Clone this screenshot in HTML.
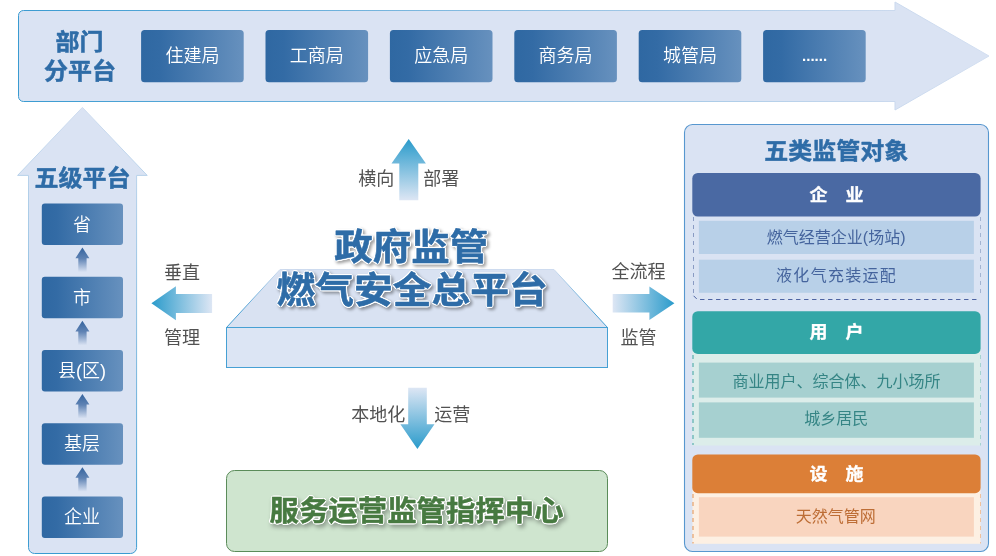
<!DOCTYPE html>
<html lang="zh-CN">
<head>
<meta charset="utf-8">
<title>政府监管燃气安全总平台</title>
<style>
html,body{margin:0;padding:0;background:#fff;}
body{width:996px;height:556px;overflow:hidden;}
svg{display:block;will-change:transform;}
text{font-family:"Liberation Sans","Noto Sans CJK SC",sans-serif;}
.w{fill:#fff;font-size:18px;font-weight:350;text-anchor:middle;}
.g{fill:#525252;font-size:18px;font-weight:400;text-anchor:middle;}
.it{font-size:16px;font-weight:400;text-anchor:middle;}
.h{fill:#2e6ca7;font-size:24px;font-weight:bold;text-anchor:middle;stroke:#2e6ca7;stroke-width:0.5px;stroke-linejoin:round;}
.hd{fill:#fff;font-size:18px;font-weight:bold;text-anchor:middle;stroke:#fff;stroke-width:0.35px;stroke-linejoin:round;}
.big{fill:#2e6ca7;font-size:38px;font-weight:bold;text-anchor:middle;stroke:#2e6ca7;stroke-width:0.6px;stroke-linejoin:round;}
.grn{fill:#477a41;font-size:29.3px;font-weight:bold;text-anchor:middle;stroke:#477a41;stroke-width:0.5px;stroke-linejoin:round;}
</style>
</head>
<body>
<svg width="996" height="556" viewBox="0 0 996 556">
<defs>
<linearGradient id="box" x1="0" y1="0" x2="1" y2="0">
<stop offset="0" stop-color="#2f68a2"/><stop offset="0.18" stop-color="#336ba5"/><stop offset="1" stop-color="#6791be"/>
</linearGradient>
<linearGradient id="bannerStroke" gradientUnits="userSpaceOnUse" x1="18" y1="0" x2="989" y2="0">
<stop offset="0" stop-color="#3a9bd1"/><stop offset="0.9" stop-color="#cad9ee"/><stop offset="1" stop-color="#d3dff1"/>
</linearGradient>
<linearGradient id="colStroke" gradientUnits="userSpaceOnUse" x1="0" y1="553" x2="0" y2="107">
<stop offset="0" stop-color="#3a9bd1"/><stop offset="1" stop-color="#cfdcef"/>
</linearGradient>
<linearGradient id="platStroke" gradientUnits="userSpaceOnUse" x1="0" y1="367" x2="0" y2="269">
<stop offset="0" stop-color="#3a9bd1"/><stop offset="0.55" stop-color="#4a9fd3"/><stop offset="1" stop-color="#cfdcef"/>
</linearGradient>
<linearGradient id="aUp" x1="0" y1="0" x2="0" y2="1">
<stop offset="0" stop-color="#2a9bcb"/><stop offset="1" stop-color="#dde6f4"/>
</linearGradient>
<linearGradient id="aDown" x1="0" y1="1" x2="0" y2="0">
<stop offset="0" stop-color="#2a9bcb"/><stop offset="1" stop-color="#dde6f4"/>
</linearGradient>
<linearGradient id="aLeft" x1="0" y1="0" x2="1" y2="0">
<stop offset="0" stop-color="#2a9bcb"/><stop offset="1" stop-color="#dde6f4"/>
</linearGradient>
<linearGradient id="aRight" x1="1" y1="0" x2="0" y2="0">
<stop offset="0" stop-color="#2a9bcb"/><stop offset="1" stop-color="#dde6f4"/>
</linearGradient>
<linearGradient id="sm" x1="0" y1="0" x2="0" y2="1">
<stop offset="0" stop-color="#34639d"/><stop offset="0.45" stop-color="#5f83b4"/><stop offset="1" stop-color="#dae3f3"/>
</linearGradient>
<filter id="sh" x="-5%" y="-10%" width="110%" height="125%" color-interpolation-filters="sRGB">
<feGaussianBlur in="SourceAlpha" stdDeviation="1" result="b"/>
<feComponentTransfer in="b" result="d"><feFuncA type="linear" slope="8" intercept="-0.6"/></feComponentTransfer>
<feFlood flood-color="#ffffff" result="wf"/>
<feComposite in="wf" in2="d" operator="in" result="white"/>
<feGaussianBlur in="d" stdDeviation="1.7" result="sb"/>
<feOffset in="sb" dx="2" dy="2.3" result="so"/>
<feFlood flood-color="#000000" flood-opacity="0.36" result="sf"/>
<feComposite in="sf" in2="so" operator="in" result="shadow"/>
<feMerge><feMergeNode in="shadow"/><feMergeNode in="white"/><feMergeNode in="SourceGraphic"/></feMerge>
</filter>
<filter id="sh2" x="-5%" y="-10%" width="110%" height="125%" color-interpolation-filters="sRGB">
<feGaussianBlur in="SourceAlpha" stdDeviation="1" result="b"/>
<feComponentTransfer in="b" result="d"><feFuncA type="linear" slope="8" intercept="-0.6"/></feComponentTransfer>
<feFlood flood-color="#ffffff" result="wf"/>
<feComposite in="wf" in2="d" operator="in" result="white"/>
<feGaussianBlur in="d" stdDeviation="2" result="sb"/>
<feOffset in="sb" dx="2.2" dy="2.6" result="so"/>
<feFlood flood-color="#000000" flood-opacity="0.3" result="sf"/>
<feComposite in="sf" in2="so" operator="in" result="shadow"/>
<feMerge><feMergeNode in="shadow"/><feMergeNode in="white"/><feMergeNode in="SourceGraphic"/></feMerge>
</filter>
</defs>

<path d="M23.5 10.5 H895 V2 L989 56 L895 110 V101.5 H23.5 A5 5 0 0 1 18.5 96.5 V15.5 A5 5 0 0 1 23.5 10.5 Z" fill="#dae3f3" stroke="url(#bannerStroke)" stroke-width="1"/>
<text class="h" transform="translate(79.6 49.7) scale(1 0.96)">部门</text>
<text class="h" transform="translate(79.9 79.0) scale(1 0.96)">分平台</text>
<rect x="141.1" y="30" width="102.6" height="52.2" rx="3.5" fill="url(#box)"/>
<text class="w" x="192.4" y="61.8">住建局</text>
<rect x="265.5" y="30" width="102.6" height="52.2" rx="3.5" fill="url(#box)"/>
<text class="w" x="316.8" y="61.8">工商局</text>
<rect x="389.9" y="30" width="102.6" height="52.2" rx="3.5" fill="url(#box)"/>
<text class="w" x="441.2" y="61.8">应急局</text>
<rect x="514.3" y="30" width="102.6" height="52.2" rx="3.5" fill="url(#box)"/>
<text class="w" x="565.6" y="61.8">商务局</text>
<rect x="638.7" y="30" width="102.6" height="52.2" rx="3.5" fill="url(#box)"/>
<text class="w" x="690.0" y="61.8">城管局</text>
<rect x="763.1" y="30" width="102.6" height="52.2" rx="3.5" fill="url(#box)"/>
<text class="w" style="font-size:15px;font-weight:700" x="814.6" y="60.6">......</text>
<path d="M82.4 107.4 L147.2 175.4 H136.6 V547.5 A6 6 0 0 1 130.6 553.5 H34.5 A6 6 0 0 1 28.5 547.5 V175.4 H17.6 Z" fill="#dae3f3" stroke="url(#colStroke)" stroke-width="1"/>
<text class="h" transform="translate(82.6 185.8) scale(1 0.96)">五级平台</text>
<rect x="41.8" y="203.6" width="81.2" height="41.5" rx="3" fill="url(#box)"/>
<text class="w" x="81.9" y="230.5">省</text>
<path d="M82.4 247.6 L89.4 258.2 H86.6 V272.1 H78.3 V258.2 H75.4 Z" fill="url(#sm)"/>
<rect x="41.8" y="276.8" width="81.2" height="41.5" rx="3" fill="url(#box)"/>
<text class="w" x="81.9" y="303.7">市</text>
<path d="M82.4 320.8 L89.4 331.4 H86.6 V345.3 H78.3 V331.4 H75.4 Z" fill="url(#sm)"/>
<rect x="41.8" y="350.0" width="81.2" height="41.5" rx="3" fill="url(#box)"/>
<text class="w" x="81.9" y="376.9">县(区)</text>
<path d="M82.4 394.0 L89.4 404.6 H86.6 V418.5 H78.3 V404.6 H75.4 Z" fill="url(#sm)"/>
<rect x="41.8" y="423.2" width="81.2" height="41.5" rx="3" fill="url(#box)"/>
<text class="w" x="81.9" y="450.1">基层</text>
<path d="M82.4 467.2 L89.4 477.8 H86.6 V491.7 H78.3 V477.8 H75.4 Z" fill="url(#sm)"/>
<rect x="41.8" y="496.4" width="81.2" height="41.5" rx="3" fill="url(#box)"/>
<text class="w" x="81.9" y="523.3">企业</text>
<path d="M408.7 139.1 L425.9 163.4 H418.3 V200.2 H399.3 V163.4 H391.5 Z" fill="url(#aUp)"/>
<text class="g" x="376.2" y="185.4">横向</text>
<text class="g" x="441.2" y="185.4">部署</text>
<path d="M417.4 448.9 L434.5 424.3 H426.8 V387.8 H408.2 V424.3 H400.4 Z" fill="url(#aDown)"/>
<text class="g" x="378.2" y="420.6">本地化</text>
<text class="g" x="452.3" y="420.6">运营</text>
<path d="M151.4 303.2 L175.9 286.2 V293.9 H212.1 V312.9 H175.9 V320.2 Z" fill="url(#aLeft)"/>
<text class="g" x="182" y="278.9">垂直</text>
<text class="g" x="182" y="343.7">管理</text>
<path d="M674.4 303.3 L649.4 286.5 V294.1 H612.7 V312.4 H649.4 V320.1 Z" fill="url(#aRight)"/>
<text class="g" x="638.6" y="277.8">全流程</text>
<text class="g" x="638.6" y="343.8">监管</text>
<path d="M280 269.5 H554 L607.5 327.5 H226.5 Z" fill="#d9e2f2" stroke="url(#platStroke)" stroke-width="1" stroke-linejoin="round"/>
<rect x="226.5" y="327.5" width="381" height="40" fill="#dce5f4" stroke="#46a0d4" stroke-width="1"/>
<g filter="url(#sh)">
<text class="big" transform="translate(411.2 259.7) scale(1.012 0.965)">政府监管</text>
<text class="big" transform="translate(412.2 302.6) scale(1.02 0.965)">燃气安全总平台</text>
</g>
<rect x="226.5" y="470.5" width="381" height="81" rx="8" fill="#cfe5cf" stroke="#5b8c5a" stroke-width="1"/>
<g filter="url(#sh2)">
<text class="grn" transform="translate(416.6 520.6) scale(1.004 0.965)">服务运营监管指挥中心</text>
</g>
<rect x="684.5" y="124.5" width="304" height="427" rx="8" fill="#dae3f3" stroke="#5797cf" stroke-width="1.1"/>
<text class="h" transform="translate(836.3 158.9) scale(1 0.96)">五类监管对象</text>
<path d="M693.5 217 V296" fill="none" stroke="#8a9bc3" stroke-width="1" stroke-dasharray="4 4"/>
<path d="M980.5 217 V297" fill="none" stroke="#a3b4d2" stroke-width="1" stroke-dasharray="4 4"/>
<path d="M693.6 295.8 L697.3 299.5 H980" fill="none" stroke="#4d63a2" stroke-width="1" stroke-dasharray="4.4 3.6"/>
<rect x="692.3" y="173" width="288.3" height="43.6" rx="5.5" fill="#4a69a3"/>
<text class="hd" transform="translate(836.5 200.5) scale(1 0.95)">企　业</text>
<rect x="698.9" y="220.8" width="275" height="33.2" fill="#b8d0e8"/>
<text x="836.2" y="243.2" class="it" fill="#45649d">燃气经营企业(场站)</text>
<rect x="698.9" y="259.7" width="275" height="33.1" fill="#b8d0e8"/>
<text x="836.6" y="281.3" class="it" style="letter-spacing:1.3px" fill="#45649d">液化气充装运配</text>
<rect x="692.4" y="345" width="288.2" height="100.5" fill="#dcedea"/>
<path d="M693 355 V445" fill="none" stroke="#3fa2a2" stroke-width="1" stroke-dasharray="4 4"/>
<path d="M980.5 355 V445.5" fill="none" stroke="#a5d3d1" stroke-width="1" stroke-dasharray="4 4"/>
<rect x="692.3" y="311.2" width="288.3" height="42.7" rx="5.5" fill="#33a7a7"/>
<text class="hd" transform="translate(836.5 338.4) scale(1 0.95)">用　户</text>
<rect x="698.9" y="362.6" width="275" height="35" fill="#a6d0d0"/>
<text x="836.4" y="387.2" class="it" fill="#358585">商业用户、综合体、九小场所</text>
<rect x="698.9" y="402.4" width="275" height="35.4" fill="#a6d0d0"/>
<text x="836.2" y="424.2" class="it" fill="#358585">城乡居民</text>
<rect x="692.5" y="485" width="288" height="58.8" fill="#fdf0e3"/>
<path d="M693 494 V543.5" fill="none" stroke="#e39253" stroke-width="1" stroke-dasharray="4 4"/>
<path d="M980.5 494 V543.5" fill="none" stroke="#f0c19c" stroke-width="1" stroke-dasharray="4 4"/>
<rect x="692.3" y="454.4" width="288.3" height="38.8" rx="5.5" fill="#dc7f37"/>
<text class="hd" transform="translate(836.5 479.7) scale(1 0.95)">设　施</text>
<rect x="698.9" y="497.2" width="275" height="39.4" fill="#f9d5bf"/>
<text x="835.8" y="522" class="it" fill="#bd6d35">天然气管网</text>
</svg>
</body>
</html>
